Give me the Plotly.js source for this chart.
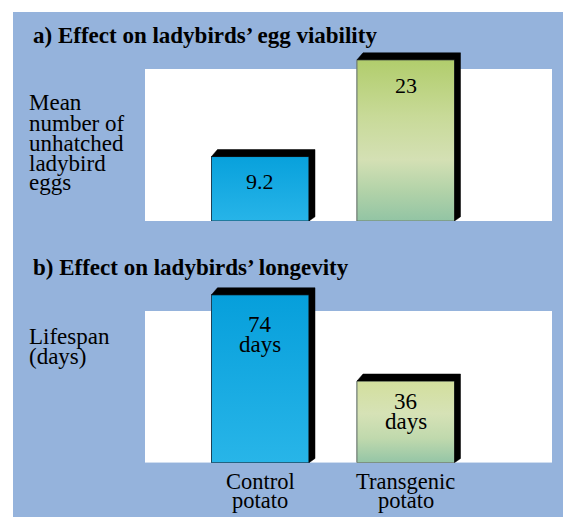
<!DOCTYPE html>
<html><head><meta charset="utf-8">
<script src="https://cdn.plot.ly/plotly-3.0.1.min.js"></script>
<style>html,body{margin:0;padding:0;background:#fff}</style>
</head><body><div id="chart" style="width:563px;height:517px"></div>
<script>
// ---------- data ----------
const categories = ['Control potato', 'Transgenic potato'];
const categoryLine1 = ['Control', 'Transgenic'];
const categoryLine2 = ['potato', 'potato'];
const eggValues = [9.2, 23];
const eggLabels = ['9.2', '23'];
const lifespanValues = [74, 36];
const lifespanLabels = ['74', '36'];
const lifespanUnit = 'days';
const titleA = 'a) Effect on ladybirds’ egg viability';
const titleB = 'b) Effect on ladybirds’ longevity';
const yLabelA = ['Mean', 'number of', 'unhatched', 'ladybird', 'eggs'];
const yLabelB = ['Lifespan', '(days)'];

// ---------- style / geometry ----------
const W = 563, H = 517;
const FONT = 'Liberation Serif';
const BG_BLUE = '#95b3dc';
const py = p => 1 - p / H;
const xDomain = [145 / W, 552 / W];
const xRange = [-0.792, 2.005];
const pxPerX = (552 - 145) / (xRange[1] - xRange[0]);
const barWidth = 0.67;
const hw = barWidth * pxPerX / 2;
const depthX = 6, depthY = 7;
const A = {base: 221, top: 50, panelTop: 69};
const B = {base: 462.7, top: 280, panelTop: 311};
A.yMax = 24.4; B.yMax = 80.5;
A.ppu = (A.base - A.top) / A.yMax;
B.ppu = (B.base - B.top) / B.yMax;
const xPos = categories.map((_, i) => i);

const fillColorsA = ['#0ea6de', '#c5d89a'];
const fillColorsB = ['#0ea6de', '#c9dcaa'];
const edgeColors = ['#1d4257', '#6e7c72'];
const gradA = [
  [[0, '#27b4e8'], [1, '#08a1dc']],
  [[0, '#92c4a4'], [0.18, '#b1d2a8'], [0.38, '#d4e0b4'], [0.65, '#c8da98'], [1, '#b1cd6c']]
];
const gradB = [
  [[0, '#28b5e8'], [1, '#069fdb']],
  [[0, '#94c5a6'], [0.3, '#c0d9ad'], [0.6, '#d6e2b6'], [1, '#d3df9d']]
];
const labelOffsetA = [25, 26];
const labelOffsetB = [30, 20];
const unitGap = 20;
const TITLE_SIZE = 23, YLABEL_SIZE = 23, XLABEL_SIZE = 22.5;

// ---------- traces ----------
const traces = [];
function addPanel(values, xa, yaName, fills, grads) {
  traces.push({
    type: 'bar', x: xPos, y: values, width: barWidth,
    xaxis: xa, yaxis: yaName,
    marker: {color: fills, line: {color: edgeColors, width: 1}},
    hovertext: categories, hoverinfo: 'text+y', showlegend: false
  });
  values.forEach((v, i) => {
    traces.push({
      type: 'scatter', mode: 'lines', xaxis: xa, yaxis: yaName,
      x: [i - barWidth / 2, i - barWidth / 2, i + barWidth / 2, i + barWidth / 2, i - barWidth / 2],
      y: [0, v, v, 0, 0],
      fill: 'toself',
      fillgradient: {type: 'vertical', colorscale: grads[i]},
      line: {color: edgeColors[i], width: 1},
      hoverinfo: 'skip', showlegend: false
    });
  });
}
addPanel(eggValues, 'x', 'y', fillColorsA, gradA);
addPanel(lifespanValues, 'x2', 'y2', fillColorsB, gradB);

// ---------- shapes ----------
const shapes = [
  {type: 'rect', xref: 'paper', yref: 'paper', x0: 13 / W, x1: 1, y0: 0, y1: py(12),
   fillcolor: BG_BLUE, line: {width: 0}, layer: 'below'},
  {type: 'rect', xref: 'x domain', yref: 'y', x0: 0, x1: 1, y0: 0, y1: (A.base - A.panelTop) / A.ppu,
   fillcolor: '#ffffff', line: {width: 0}, layer: 'below'},
  {type: 'rect', xref: 'x2 domain', yref: 'y2', x0: 0, x1: 1, y0: 0, y1: (B.base - B.panelTop) / B.ppu,
   fillcolor: '#ffffff', line: {width: 0}, layer: 'below'}
];
function addDepth(values, xa, yaName, ppu) {
  const dU = depthY / ppu;
  values.forEach((v, i) => {
    shapes.push({
      type: 'path', xref: xa, yref: yaName, xsizemode: 'pixel', xanchor: i, layer: 'above',
      path: `M ${-hw},${v} L ${-hw + depthX},${v + dU} L ${hw + depthX},${v + dU} L ${hw + depthX},${dU * 0.6} L ${hw},0 L ${hw},${v} Z`,
      fillcolor: '#000000', line: {color: '#000000', width: 0.5}
    });
  });
}
addDepth(eggValues, 'x', 'y', A.ppu);
addDepth(lifespanValues, 'x2', 'y2', B.ppu);

// ---------- annotations ----------
const ann = [];
const txt = (text, size, bold) => ({text: bold ? '<b>' + text + '</b>' : text, font: {family: FONT, size: size, color: '#000'}});
function paperText(text, xpx, ypx, size, bold, anchor) {
  ann.push(Object.assign(txt(text, size, bold), {
    xref: 'paper', yref: 'paper', x: xpx / W, y: py(ypx), xanchor: anchor || 'left', yanchor: 'middle',
    showarrow: false
  }));
}
paperText(titleA, 31, 35.5, TITLE_SIZE, true);
paperText(titleB, 31, 267.5, TITLE_SIZE, true);
const yA = [102.5, 123.2, 143.5, 163.5, 182.5];
yLabelA.forEach((t, k) => paperText(t, 27, yA[k], YLABEL_SIZE));
const yB = [336.5, 356];
yLabelB.forEach((t, k) => paperText(t, 27, yB[k], YLABEL_SIZE));

eggValues.forEach((v, i) => {
  ann.push(Object.assign(txt(eggLabels[i], 22), {
    xref: 'x', yref: 'y', x: i, y: v, xanchor: 'center', yanchor: 'middle',
    yshift: -labelOffsetA[i], showarrow: false
  }));
});
lifespanValues.forEach((v, i) => {
  ann.push(Object.assign(txt(lifespanLabels[i], 23), {
    xref: 'x2', yref: 'y2', x: i, y: v, xanchor: 'center', yanchor: 'middle',
    yshift: -labelOffsetB[i], showarrow: false
  }));
  ann.push(Object.assign(txt(lifespanUnit, 23), {
    xref: 'x2', yref: 'y2', x: i, y: v, xanchor: 'center', yanchor: 'middle',
    yshift: -(labelOffsetB[i] + unitGap), showarrow: false
  }));
});
categories.forEach((c, i) => {
  ann.push(Object.assign(txt(categoryLine1[i], XLABEL_SIZE), {
    xref: 'x2', yref: 'paper', x: i, y: py(481), xanchor: 'center', yanchor: 'middle', showarrow: false
  }));
  ann.push(Object.assign(txt(categoryLine2[i], XLABEL_SIZE), {
    xref: 'x2', yref: 'paper', x: i, y: py(500.5), xanchor: 'center', yanchor: 'middle', showarrow: false
  }));
});

// ---------- layout ----------
const xCommon = {domain: xDomain, range: xRange, type: 'linear', showgrid: false, zeroline: false,
  showline: false, showticklabels: false, ticks: '', fixedrange: true,
  tickvals: xPos, ticktext: categories};
const yCommon = {showgrid: false, zeroline: false, showline: false, showticklabels: false, ticks: '', fixedrange: true};
const layout = {
  width: W, height: H,
  margin: {l: 0, r: 0, t: 0, b: 0, pad: 0},
  paper_bgcolor: '#ffffff', plot_bgcolor: 'rgba(0,0,0,0)',
  showlegend: false, bargap: 0,
  font: {family: FONT},
  xaxis: Object.assign({}, xCommon, {anchor: 'y'}),
  xaxis2: Object.assign({}, xCommon, {anchor: 'y2'}),
  yaxis: Object.assign({}, yCommon, {anchor: 'x', domain: [py(A.base), py(A.top)], range: [0, A.yMax]}),
  yaxis2: Object.assign({}, yCommon, {anchor: 'x2', domain: [py(B.base), py(B.top)], range: [0, B.yMax]}),
  shapes: shapes, annotations: ann
};
Plotly.newPlot('chart', traces, layout, {staticPlot: true, displayModeBar: false});
</script></body></html>
